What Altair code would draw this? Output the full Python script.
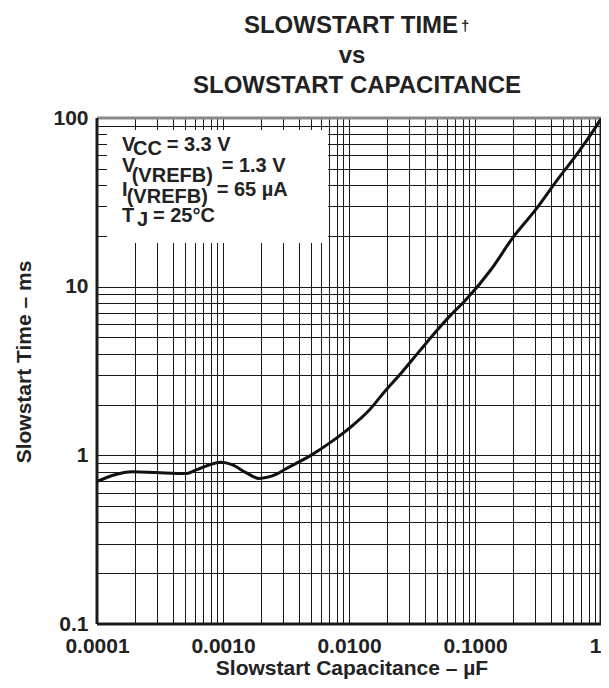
import altair as alt
import pandas as pd

# ---- data ----
cap_uF = [0.0001, 0.000192, 0.000297, 0.000513, 0.000615, 0.000968, 0.00118,
          0.00152, 0.00193, 0.00263, 0.00314, 0.00509, 0.00732, 0.0102, 0.01425,
          0.0193, 0.0261, 0.0353, 0.0479, 0.0647, 0.0826, 0.1337, 0.1985, 0.303,
          0.450, 0.667, 0.96, 1.0]
time_ms = [0.70, 0.80, 0.79, 0.78, 0.82, 0.91, 0.88,
           0.79, 0.73, 0.77, 0.83, 1.01, 1.21, 1.46, 1.83,
           2.40, 3.09, 4.05, 5.32, 6.83, 8.19, 12.6, 19.4, 28.6,
           43.0, 63.2, 94.5, 99.5]

x_decades = [0.0001, 0.001, 0.01, 0.1, 1]
x_labels = ["0.0001", "0.0010", "0.0100", "0.1000", "1"]
y_decades = [0.1, 1, 10, 100]
y_labels = ["0.1", "1", "10", "100"]
mults = [1, 2, 3, 4, 5, 6, 7, 8, 9]

x_grid = [round(m * d, 6) for d in x_decades[:-1] for m in mults] + [1]
y_grid = [round(m * d, 4) for d in y_decades[:-1] for m in mults] + [100]


def label_expr(vals, labs):
    expr = "''"
    for v, l in zip(reversed(vals), reversed(labs)):
        expr = f"abs(datum.value - {v}) < {v} * 1e-6 ? '{l}' : ({expr})"
    return expr


FONT = "Liberation Sans"
W, H = 504, 506

df = pd.DataFrame({"cap": cap_uF, "t": time_ms})
one = pd.DataFrame({"d": [0]})

line = alt.Chart(df).mark_line(color="#111", strokeWidth=3, interpolate="monotone").encode(
    x=alt.X("cap:Q",
            scale=alt.Scale(type="log", domain=[0.0001, 1], nice=False),
            axis=alt.Axis(title=None, values=x_grid, labelExpr=label_expr(x_decades, x_labels),
                          grid=True, gridColor="#1a1a1a", gridWidth=1, ticks=False, domain=False,
                          labelFont=FONT, labelFontSize=21, labelFontWeight="bold",
                          labelColor="#222", labelPadding=11, labelOverlap=False,
                          labelFlush=False,
                          labelAlign={"condition": {"test": "datum.value >= 1", "value": "right"},
                                      "value": "center"})),
    y=alt.Y("t:Q",
            scale=alt.Scale(type="log", domain=[0.1, 100], nice=False),
            axis=alt.Axis(title=None, values=y_grid, labelExpr=label_expr(y_decades, y_labels),
                          grid=True, gridColor="#1a1a1a", gridWidth=1, ticks=False, domain=False,
                          labelFont=FONT, labelFontSize=21, labelFontWeight="bold",
                          labelColor="#222", labelPadding=9, labelOverlap=False)),
)

box = alt.Chart(one).mark_rect(color="white").encode(
    x=alt.value(10), x2=alt.value(231), y=alt.value(12), y2=alt.value(125))

borders = [
    alt.Chart(one).mark_rule(color="#888888", strokeWidth=3).encode(
        x=alt.value(0), x2=alt.value(W), y=alt.value(0)),
    alt.Chart(one).mark_rule(color="#1a1a1a", strokeWidth=3).encode(
        x=alt.value(0), x2=alt.value(W), y=alt.value(H)),
    alt.Chart(one).mark_rule(color="#1a1a1a", strokeWidth=3).encode(
        x=alt.value(0), y=alt.value(0), y2=alt.value(H)),
    alt.Chart(one).mark_rule(color="#1a1a1a", strokeWidth=3).encode(
        x=alt.value(W), y=alt.value(0), y2=alt.value(H)),
]


def txt(s, x, y, size=20, align="left", angle=0, baseline="alphabetic"):
    m = alt.Chart(one).mark_text(font=FONT, fontSize=size, fontWeight="bold", color="#222",
                                 align=align, baseline=baseline, angle=angle)
    return m.encode(x=alt.value(x), y=alt.value(y), text=alt.value(s))


texts = [
    # title
    txt("SLOWSTART TIME", 254, -85, size=24, align="center"),
    txt("†", 364, -87, size=15),
    txt("vs", 255, -55, size=24, align="center"),
    txt("SLOWSTART CAPACITANCE", 260, -25, size=24, align="center"),
    # legend
    txt("V", 25, 32.7), txt("CC", 36, 36.7), txt("= 3.3 V", 69.7, 32.7),
    txt("V", 25, 54), txt("(VREFB)", 34.7, 64), txt("= 1.3 V", 124.7, 54),
    txt("I", 25, 78), txt("(VREFB)", 29.7, 85), txt("= 65 µA", 119.7, 78),
    txt("T", 25, 104), txt("J", 40, 108), txt("= 25°C", 56, 104),
    # axis titles
    txt("Slowstart Capacitance – µF", 255, 557, size=21, align="center"),
    txt("Slowstart Time – ms", -72, 244, size=21, align="center", angle=270, baseline="middle"),
]

chart = alt.layer(line, box, *borders, *texts).properties(
    width=W, height=H,
    autosize=alt.AutoSizeParams(type="none"),
    padding={"left": 89, "top": 110, "right": 0, "bottom": 56},
).configure_view(stroke=None)

chart.save("out.html", embed_options={"renderer": "svg", "actions": False})
